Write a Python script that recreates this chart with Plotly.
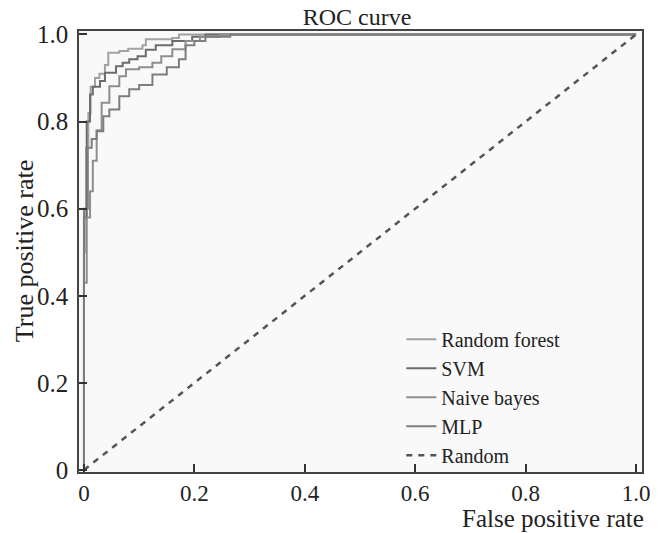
import plotly.graph_objects as go

# ---- data ----
rf_fpr = [0, 0, 0.004, 0.008, 0.012, 0.020, 0.028, 0.038, 0.044, 0.064, 0.080, 0.106, 0.112, 0.160, 0.172, 1.0]
rf_tpr = [0, 0.50, 0.74, 0.82, 0.88, 0.90, 0.91, 0.93, 0.958, 0.962, 0.967, 0.975, 0.989, 0.992, 1.0, 1.0]

svm_fpr = [0, 0, 0.005, 0.011, 0.016, 0.029, 0.038, 0.058, 0.070, 0.082, 0.097, 0.112, 0.130, 0.160, 0.196, 0.220, 1.0]
svm_tpr = [0, 0.58, 0.80, 0.862, 0.88, 0.893, 0.912, 0.927, 0.935, 0.943, 0.950, 0.965, 0.975, 0.985, 0.995, 1.0, 1.0]

nb_fpr = [0, 0, 0.005, 0.011, 0.016, 0.023, 0.032, 0.046, 0.064, 0.076, 0.100, 0.124, 0.140, 0.160, 0.184, 0.210, 0.245, 1.0]
nb_tpr = [0, 0.43, 0.58, 0.64, 0.71, 0.78, 0.843, 0.881, 0.904, 0.920, 0.925, 0.935, 0.950, 0.966, 0.985, 0.995, 1.0, 1.0]

mlp_fpr = [0, 0, 0.007, 0.014, 0.023, 0.035, 0.046, 0.064, 0.082, 0.100, 0.124, 0.150, 0.172, 0.184, 0.200, 0.220, 0.265, 1.0]
mlp_tpr = [0, 0.60, 0.74, 0.76, 0.778, 0.812, 0.828, 0.858, 0.874, 0.884, 0.908, 0.925, 0.943, 0.975, 0.985, 0.995, 1.0, 1.0]

random_fpr = [0, 1]
random_tpr = [0, 1]

series_names = ["Random forest", "SVM", "Naive bayes", "MLP"]
series_colors = ["#a2a2a2", "#6c6c6c", "#8e8e8e", "#7e7e7e"]

tick_vals = [0, 0.2, 0.4, 0.6, 0.8, 1.0]
tick_text = ["0", "0.2", "0.4", "0.6", "0.8", "1.0"]

FONT = "Liberation Serif"

fig = go.Figure()
for name, color, xs, ys in zip(series_names, series_colors,
                               [rf_fpr, svm_fpr, nb_fpr, mlp_fpr],
                               [rf_tpr, svm_tpr, nb_tpr, mlp_tpr]):
    fig.add_trace(go.Scatter(x=xs, y=ys, mode="lines", name=name,
                             line=dict(color=color, width=2, shape="hv")))

fig.add_trace(go.Scatter(x=random_fpr, y=random_tpr, mode="lines", name="Random",
                         line=dict(color="#555555", width=2.5, dash="6px,6px")))

axis_common = dict(
    showline=True, linecolor="#444444", linewidth=1.5, mirror=True,
    ticks="inside", ticklen=8, tickwidth=1.5, tickcolor="#333333",
    tickvals=tick_vals, ticktext=tick_text,
    showgrid=False, zeroline=False,
)

fig.update_layout(
    width=662, height=533,
    margin=dict(l=79, r=13, t=31, b=61),
    paper_bgcolor="white",
    plot_bgcolor="#f9f9f9",
    font=dict(family=FONT, color="#222222"),
    title=dict(text="ROC curve", x=357/662, xanchor="center", xref="container",
               y=1 - 17/533, yanchor="middle", yref="container",
               font=dict(family=FONT, size=24, color="#222222")),
    xaxis=dict(range=[-0.009, 1.0107], ticklabelstandoff=0,
               tickfont=dict(family=FONT, size=23, color="#222222"), **axis_common),
    yaxis=dict(range=[-0.0046, 1.008], ticklabelstandoff=4,
               tickfont=dict(family=FONT, size=25, color="#222222"), **axis_common),
    showlegend=True,
    legend=dict(x=0.5725, y=0.345, xanchor="left", yanchor="top",
                bgcolor="rgba(0,0,0,0)", borderwidth=0,
                font=dict(family=FONT, size=20, color="#222222"),
                tracegroupgap=0),
    annotations=[
        dict(text="False positive rate", xref="paper", yref="paper",
             x=1.0065, y=-0.106, xanchor="right", yanchor="middle",
             showarrow=False, font=dict(family=FONT, size=25, color="#222222")),
        dict(text="True positive rate", xref="paper", yref="paper",
             x=-0.0965, y=0.5, xanchor="center", yanchor="middle", textangle=-90,
             showarrow=False, font=dict(family=FONT, size=26, color="#222222")),
    ],
)

fig.write_html("out.html",
               config={"displayModeBar": False},
               post_script="document.body.style.margin='0';document.body.style.padding='0';document.documentElement.style.overflow='hidden';")
